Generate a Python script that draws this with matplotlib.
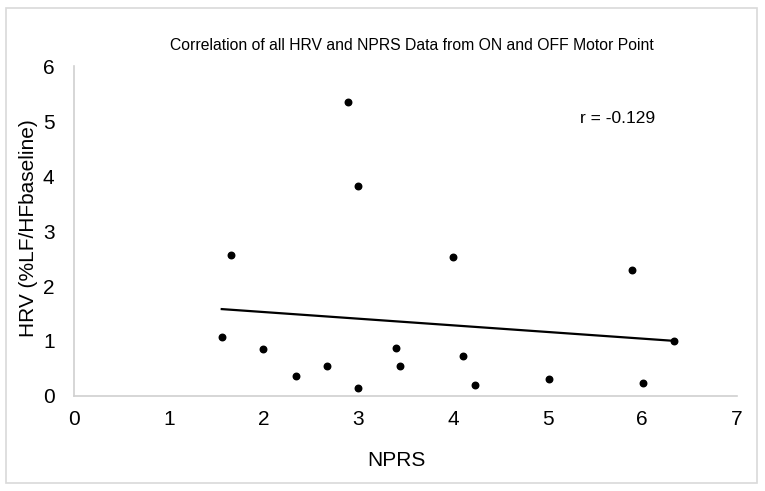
import numpy as np
import matplotlib
matplotlib.use("Agg")
import matplotlib.pyplot as plt
from matplotlib.patches import Rectangle

# NPRS vs HRV values
nprs = [1.56, 1.66, 2.0, 2.34, 2.67, 2.89, 3.0, 3.0, 3.40, 3.44,
        4.0, 4.11, 4.23, 5.01, 5.89, 6.01, 6.34]
hrv = [1.07, 2.56, 0.86, 0.36, 0.54, 5.34, 3.82, 0.14, 0.88, 0.55,
       2.53, 0.73, 0.20, 0.30, 2.29, 0.24, 1.00]
# trendline as drawn in the chart
trend_slope = -0.121
trend_intercept = 1.769
x_ticks = [0, 1, 2, 3, 4, 5, 6, 7]
y_ticks = [0, 1, 2, 3, 4, 5, 6]

plt.rcParams['font.family'] = ['Liberation Sans Narrow', 'Liberation Sans', 'DejaVu Sans']

fig = plt.figure(figsize=(7.65, 4.91), dpi=100)
ax = fig.add_axes([0.0967, 0.1935, 0.8667, 0.672])

ax.scatter(nprs, hrv, s=22, color='black', zorder=3)

xs = np.array([min(nprs), max(nprs)])
ax.plot(xs, trend_slope * xs + trend_intercept, color='black', lw=1.6)

ax.set_xlim(0, 7)
ax.set_ylim(0, 6)
ax.set_xticks(x_ticks)
ax.set_yticks(y_ticks)
ax.tick_params(length=0, labelsize=15, pad=10)
ax.tick_params(axis='y', pad=14)

for s in ['top', 'right']:
    ax.spines[s].set_visible(False)
for s in ['left', 'bottom']:
    ax.spines[s].set_color('#d0d0d0')
    ax.spines[s].set_linewidth(1.2)

ax.set_xlabel("NPRS", fontsize=15, va='center')
ax.xaxis.set_label_coords(0.487, -0.194)
ax.set_ylabel("HRV (%LF/HFbaseline)", fontsize=15, va='center')
ax.yaxis.set_label_coords(-0.069, 0.509)
fig.text(0.539, 0.908, "Correlation of all HRV and NPRS Data from ON and OFF Motor Point",
         ha='center', va='center', fontsize=11.3)
ax.text(0.763, 0.842, "r = -0.129", transform=ax.transAxes, fontsize=12.5, va='center')

# light border round the chart area
fig.patches.append(Rectangle((0.008, 0.016), 0.982, 0.968, transform=fig.transFigure,
                             fill=False, edgecolor='#d9d9d9', lw=1.2))

fig.savefig("out.png", dpi=100)
